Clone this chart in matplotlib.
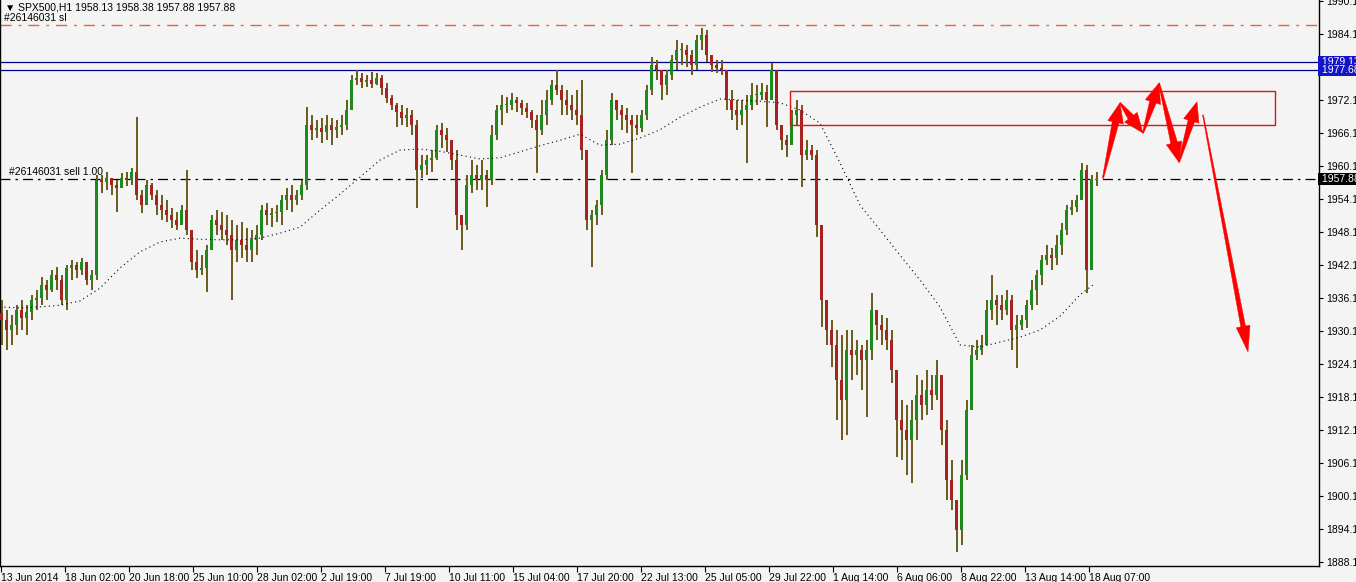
import numpy as np
import matplotlib.pyplot as plt
import matplotlib.transforms as mtransforms
from matplotlib.patches import Rectangle, Polygon

plt.rcParams['font.family'] = ['Liberation Sans', 'DejaVu Sans']

# SPX500 H1, resampled to 5-hour bars (13 Jun - 18 Aug 2014)
highs = [
    1935.9, 1934.0, 1933.1, 1935.0, 1935.9, 1935.0, 1936.8, 1937.7, 1940.0, 1939.5,
    1941.3, 1941.9, 1940.4, 1942.2, 1943.1, 1942.8, 1943.5, 1942.8, 1941.3, 1958.6,
    1958.6, 1959.1, 1958.0, 1957.7, 1959.0, 1959.1, 1959.9, 1969.1, 1955.9, 1957.7,
    1957.1, 1955.9, 1955.0, 1954.0, 1952.6, 1951.9, 1953.1, 1959.5, 1947.7, 1945.0,
    1944.0, 1945.9, 1951.3, 1952.2, 1951.9, 1951.3, 1950.4, 1949.5, 1950.0, 1949.0,
    1948.6, 1949.5, 1953.1, 1953.5, 1952.6, 1953.1, 1955.0, 1956.2, 1956.8, 1955.9,
    1957.7, 1970.9, 1969.5, 1968.6, 1969.0, 1969.5, 1969.0, 1968.6, 1969.5, 1972.2,
    1976.8, 1977.7, 1977.1, 1976.8, 1977.3, 1977.1, 1976.8, 1975.3, 1973.1, 1971.7,
    1971.3, 1970.8, 1970.4, 1968.6, 1962.2, 1962.2, 1963.1, 1967.7, 1968.0, 1967.1,
    1964.9, 1963.1, 1951.3, 1958.6, 1961.3, 1960.4, 1961.3, 1959.5, 1967.7, 1971.3,
    1973.1, 1972.8, 1973.5, 1972.8, 1972.2, 1971.7, 1970.4, 1969.5, 1972.2, 1974.0,
    1975.9, 1977.7, 1974.9, 1974.0, 1973.1, 1974.0, 1975.9, 1963.1, 1952.2, 1954.0,
    1959.5, 1966.8, 1973.5, 1972.2, 1971.3, 1970.8, 1969.5, 1969.5, 1970.4, 1974.9,
    1980.0, 1979.5, 1977.1, 1977.7, 1980.4, 1983.1, 1982.6, 1982.2, 1981.3, 1984.0,
    1985.3, 1984.9, 1980.4, 1979.5, 1979.5, 1977.7, 1974.0, 1972.2, 1972.2, 1973.1,
    1975.3, 1974.9, 1975.3, 1974.9, 1978.9, 1977.7, 1966.8, 1965.9, 1970.4, 1972.2,
    1971.3, 1964.9, 1964.0, 1963.1, 1949.5, 1935.9, 1932.2, 1930.4, 1929.5, 1930.4,
    1930.4, 1928.6, 1927.7, 1928.6, 1937.1, 1934.0, 1933.1, 1932.6, 1930.4, 1923.1,
    1917.7, 1916.8, 1917.7, 1922.2, 1921.3, 1923.1, 1922.2, 1925.0, 1922.2, 1914.0,
    1906.8, 1898.6, 1906.8, 1917.7, 1927.7, 1928.6, 1929.5, 1935.9, 1940.4, 1936.8,
    1936.8, 1937.7, 1936.8, 1933.1, 1933.1, 1935.9, 1939.5, 1941.3, 1944.0, 1945.9,
    1945.3, 1947.7, 1949.9, 1953.1, 1954.0, 1955.0, 1960.8, 1960.4, 1958.6, 1959.1,
]
lows = [
    1927.7, 1926.8, 1927.7, 1929.5, 1930.4, 1929.5, 1932.2, 1934.0, 1935.0, 1935.9,
    1937.3, 1937.7, 1935.0, 1934.0, 1939.5, 1939.9, 1940.4, 1938.6, 1937.7, 1939.5,
    1955.3, 1955.9, 1955.0, 1951.9, 1956.2, 1956.6, 1956.8, 1954.0, 1951.7, 1953.1,
    1954.0, 1951.3, 1950.4, 1950.0, 1949.0, 1948.6, 1949.5, 1947.7, 1941.3, 1939.9,
    1940.4, 1937.3, 1945.9, 1947.7, 1946.8, 1945.9, 1935.9, 1942.8, 1943.5, 1942.8,
    1942.8, 1944.0, 1946.8, 1949.5, 1949.1, 1950.0, 1949.5, 1952.2, 1951.9, 1953.1,
    1954.0, 1955.9, 1964.9, 1965.3, 1964.4, 1964.9, 1964.0, 1965.3, 1965.9, 1966.8,
    1970.4, 1974.9, 1974.4, 1974.6, 1974.4, 1974.9, 1973.1, 1971.7, 1970.4, 1967.3,
    1967.7, 1967.3, 1965.9, 1952.6, 1958.0, 1958.6, 1959.1, 1961.3, 1963.5, 1962.8,
    1959.5, 1948.6, 1945.0, 1948.6, 1955.3, 1955.9, 1955.9, 1952.8, 1956.8, 1964.9,
    1967.7, 1969.9, 1970.4, 1970.0, 1969.5, 1969.0, 1967.1, 1959.0, 1965.9, 1967.7,
    1971.3, 1973.1, 1969.5, 1969.5, 1968.6, 1967.7, 1961.3, 1948.6, 1941.9, 1949.5,
    1951.3, 1957.7, 1964.0, 1968.6, 1966.8, 1966.2, 1959.0, 1965.9, 1966.4, 1968.6,
    1973.1, 1975.9, 1972.2, 1973.1, 1975.9, 1977.7, 1978.6, 1978.2, 1976.8, 1977.7,
    1981.3, 1979.1, 1977.3, 1977.1, 1976.8, 1970.4, 1968.6, 1966.8, 1967.7, 1960.8,
    1970.4, 1971.3, 1972.2, 1967.3, 1972.2, 1966.8, 1963.1, 1961.9, 1964.0, 1967.7,
    1956.4, 1961.3, 1961.3, 1947.3, 1931.0, 1927.7, 1923.7, 1914.0, 1910.4, 1911.3,
    1921.3, 1922.2, 1919.5, 1914.6, 1925.0, 1928.6, 1927.7, 1926.8, 1920.8, 1907.3,
    1906.8, 1904.0, 1902.6, 1910.4, 1914.0, 1915.0, 1915.9, 1917.7, 1909.5, 1899.5,
    1897.7, 1890.0, 1891.3, 1903.1, 1915.9, 1925.0, 1925.9, 1927.7, 1932.2, 1931.3,
    1932.2, 1933.1, 1926.8, 1923.5, 1930.4, 1930.8, 1934.0, 1935.0, 1938.6, 1942.2,
    1941.3, 1942.2, 1944.0, 1947.7, 1951.3, 1951.9, 1954.0, 1937.1, 1941.3, 1956.6,
]
closes = [
    1932.2, 1930.4, 1931.3, 1934.0, 1932.6, 1933.7, 1935.9, 1936.2, 1938.6, 1937.7,
    1940.4, 1939.5, 1935.9, 1941.7, 1942.2, 1941.3, 1942.8, 1939.5, 1940.4, 1957.7,
    1957.3, 1958.0, 1956.8, 1956.2, 1958.0, 1957.7, 1959.1, 1955.0, 1953.1, 1956.8,
    1955.0, 1953.1, 1952.2, 1951.3, 1950.4, 1949.5, 1952.2, 1948.6, 1942.8, 1941.3,
    1941.7, 1945.0, 1950.4, 1949.5, 1948.6, 1947.7, 1945.0, 1946.8, 1945.9, 1945.0,
    1946.8, 1947.7, 1952.2, 1951.3, 1951.7, 1951.9, 1954.0, 1955.0, 1954.0, 1955.0,
    1956.8, 1967.7, 1966.8, 1967.1, 1966.4, 1967.7, 1966.8, 1967.3, 1967.7, 1970.4,
    1975.9, 1976.2, 1975.5, 1975.9, 1975.1, 1976.2, 1974.4, 1972.6, 1971.3, 1970.0,
    1969.0, 1969.5, 1967.7, 1959.5, 1960.4, 1961.3, 1961.7, 1966.8, 1965.9, 1964.9,
    1961.3, 1951.3, 1949.5, 1956.8, 1958.6, 1957.7, 1958.6, 1957.7, 1965.9, 1970.4,
    1971.3, 1971.3, 1972.2, 1971.7, 1970.8, 1970.0, 1968.6, 1966.8, 1969.5, 1972.2,
    1974.9, 1974.0, 1972.2, 1971.3, 1970.4, 1969.5, 1963.1, 1950.4, 1951.3, 1953.1,
    1958.6, 1964.9, 1972.2, 1970.4, 1969.5, 1968.6, 1967.7, 1967.1, 1969.5, 1974.0,
    1978.6, 1977.7, 1974.9, 1976.8, 1979.5, 1981.3, 1981.3, 1980.4, 1978.6, 1983.1,
    1984.0, 1980.4, 1978.6, 1978.0, 1977.7, 1972.2, 1970.4, 1969.5, 1970.4, 1971.3,
    1973.1, 1973.1, 1973.7, 1972.2, 1977.7, 1967.7, 1964.9, 1964.0, 1969.5, 1970.4,
    1962.2, 1963.1, 1962.2, 1949.5, 1935.9, 1930.4, 1927.7, 1921.3, 1917.7, 1926.8,
    1925.9, 1926.8, 1925.0, 1926.8, 1934.0, 1931.3, 1930.4, 1928.6, 1923.1, 1914.0,
    1912.2, 1910.4, 1914.0, 1918.6, 1916.8, 1919.5, 1918.6, 1922.2, 1912.2, 1903.1,
    1899.5, 1894.0, 1904.0, 1915.9, 1925.9, 1926.8, 1927.7, 1934.0, 1935.9, 1935.0,
    1934.0, 1935.9, 1930.4, 1931.3, 1932.2, 1935.0, 1937.7, 1940.4, 1943.1, 1944.0,
    1943.5, 1945.9, 1948.6, 1952.2, 1952.8, 1954.0, 1959.5, 1941.3, 1957.7, 1957.88,
]
first_open = 1933.5

# moving average (dotted), hour index -> price
ma_x = [0, 20, 40, 60, 80, 100, 120, 140, 160, 180, 200, 220, 240, 260, 280, 300,
        320, 340, 360, 380, 400, 420, 440, 460, 480, 500, 520, 540, 560, 580, 600,
        620, 640, 660, 680, 700, 720, 740, 760, 780, 800, 820, 840, 860, 880, 900,
        920, 940, 960, 980, 1000, 1020, 1040, 1060, 1080, 1093]
ma_vals = [1934.6, 1934.4, 1934.6, 1934.9, 1935.7, 1938.0, 1941.7, 1944.6, 1946.4,
           1947.1, 1946.9, 1946.8, 1946.8, 1947.1, 1948.0, 1949.1, 1952.2, 1955.1,
           1958.2, 1961.3, 1963.1, 1963.3, 1962.9, 1962.2, 1961.5, 1961.7, 1962.8,
           1963.9, 1964.9, 1966.0, 1964.0, 1964.2, 1965.3, 1966.8, 1969.1, 1970.9,
           1972.4, 1972.2, 1972.0, 1971.7, 1970.4, 1968.0, 1960.8, 1953.1, 1948.6,
           1944.0, 1939.5, 1934.6, 1927.7, 1927.3, 1928.2, 1929.1, 1930.4, 1932.9,
           1936.8, 1938.6]

sl_level = 1985.86
open_price = 1957.88
blue_levels = [1979.13, 1977.68]
zone = (790, 1275, 1967.7, 1973.8)   # x from, x to, price low, price high
arrow_path = [(1103, 1958.0), (1120, 1971.7), (1143, 1966.2), (1159, 1975.3),
              (1179, 1960.9), (1197, 1971.9)]
arrow_last = [(1203, 1969.5), (1248, 1926.4)]

price_ticks = [1990.15, 1984.15, 1972.15, 1966.15, 1960.15, 1954.15, 1948.15, 1942.15,
               1936.15, 1930.15, 1924.15, 1918.15, 1912.15, 1906.15, 1900.15, 1894.15,
               1888.15]
time_labels = ["13 Jun 2014", "18 Jun 02:00", "20 Jun 18:00", "25 Jun 10:00",
               "28 Jun 02:00", "2 Jul 19:00", "7 Jul 19:00", "10 Jul 11:00",
               "15 Jul 04:00", "17 Jul 20:00", "22 Jul 13:00", "25 Jul 05:00",
               "29 Jul 22:00", "1 Aug 14:00", "6 Aug 06:00", "8 Aug 22:00",
               "13 Aug 14:00", "18 Aug 07:00"]

bg = '#f4f4f4'
W, H = 1356, 582
fig = plt.figure(figsize=(W / 100, H / 100), dpi=100, facecolor=bg)
ax = fig.add_axes([0, 16 / H, 1319 / W, 566 / H])
ax.set_facecolor(bg)
ax.set_xlim(0, 1319)
ax.set_ylim(1887.49, 1990.4)

# candles
n = len(closes)
xs = np.arange(n) * 5 + 1.5
c = np.array(closes)
o = np.concatenate([[first_open], c[:-1]])
hi = np.maximum(np.array(highs), np.maximum(o, c))
lo = np.minimum(np.array(lows), np.minimum(o, c))
up = c >= o
ax.vlines(xs, lo, hi, colors='#6b5a1c', linewidth=1.4, zorder=3)
body_lo = np.minimum(o, c)
body_h = np.maximum(np.abs(c - o), 0.2)
ax.bar(xs[up], body_h[up], bottom=body_lo[up], width=3.2, color='#1d8a1d', zorder=4)
ax.bar(xs[~up], body_h[~up], bottom=body_lo[~up], width=3.2, color='#a82222', zorder=4)

ax.plot(ma_x, ma_vals, color='black', linewidth=0.8, linestyle=(0, (1, 3)), zorder=5)

# horizontal levels
ax.axhline(sl_level, color='#f06428', linewidth=1.0, linestyle=(0, (8, 5, 2, 5)), zorder=2)
ax.axhline(open_price, color='black', linewidth=0.9, linestyle=(0, (8, 4, 2, 4)), zorder=2)
for lv in blue_levels:
    ax.axhline(lv, color='#00008c', linewidth=0.9, zorder=2)

ax.add_patch(Rectangle((zone[0], zone[2]), zone[1] - zone[0], zone[3] - zone[2],
                       fill=False, edgecolor='#d81818', linewidth=1.0, zorder=6))

# text labels
fig.text(5 / W, 1 - 8 / H, '\u25bc SPX500,H1 1958.13 1958.38 1957.88 1957.88',
         fontsize=7.5, va='center', ha='left')
ax.annotate('#26146031 sl', (4, sl_level), xytext=(0, 1.5), textcoords='offset points',
            fontsize=7.5, va='bottom', ha='left')
ax.annotate('#26146031 sell 1.00', (9, open_price), xytext=(0, 1.5),
            textcoords='offset points', fontsize=7.5, va='bottom', ha='left')

# axes
ax.spines['top'].set_visible(False)
for s in ['left', 'right', 'bottom']:
    ax.spines[s].set_color('black')
    ax.spines[s].set_linewidth(1.0)
ax.yaxis.tick_right()
ax.set_yticks(price_ticks)
ax.set_yticklabels(['%.2f' % v for v in price_ticks])
ax.tick_params(axis='y', direction='out', length=3, labelsize=7.5, pad=2)
ax.set_xticks([1 + 64 * k for k in range(len(time_labels))])
ax.set_xticklabels(time_labels)
plt.setp(ax.get_xticklabels(), ha='left')
ax.tick_params(axis='x', direction='out', length=4, labelsize=7.5, pad=1)

tr = mtransforms.blended_transform_factory(ax.transAxes, ax.transData)
for lv, fc in [(blue_levels[0], '#1515c8'), (blue_levels[1], '#1515c8'), (open_price, 'black')]:
    ax.text(1.0, lv, ' %.2f' % lv, transform=tr, fontsize=7.5, color='white',
            va='center', ha='left', zorder=10, clip_on=False,
            bbox=dict(boxstyle='square,pad=0.1', fc=fc, ec='none'))


def tapered(p0, p1, head_len=20, head_w=8, w0=0.6, w1=3.4):
    a = ax.transData.transform(p0)
    b = ax.transData.transform(p1)
    d = (b - a) / np.hypot(*(b - a))
    nrm = np.array([-d[1], d[0]])
    base = b - d * head_len
    pts = [a + nrm * w0, base + nrm * w1, base + nrm * head_w, b,
           base - nrm * head_w, base - nrm * w1, a - nrm * w0]
    ax.add_patch(Polygon(pts, closed=True, facecolor='#ff0000', edgecolor='#ff0000',
                         linewidth=0.3, transform=mtransforms.IdentityTransform(),
                         zorder=8, clip_on=False))


for p0, p1 in zip(arrow_path[:-1], arrow_path[1:]):
    tapered(p0, p1)
tapered(arrow_last[0], arrow_last[1], head_len=26, head_w=7, w0=0.5, w1=2.4)

fig.savefig('out.png', dpi=100, facecolor=bg)
